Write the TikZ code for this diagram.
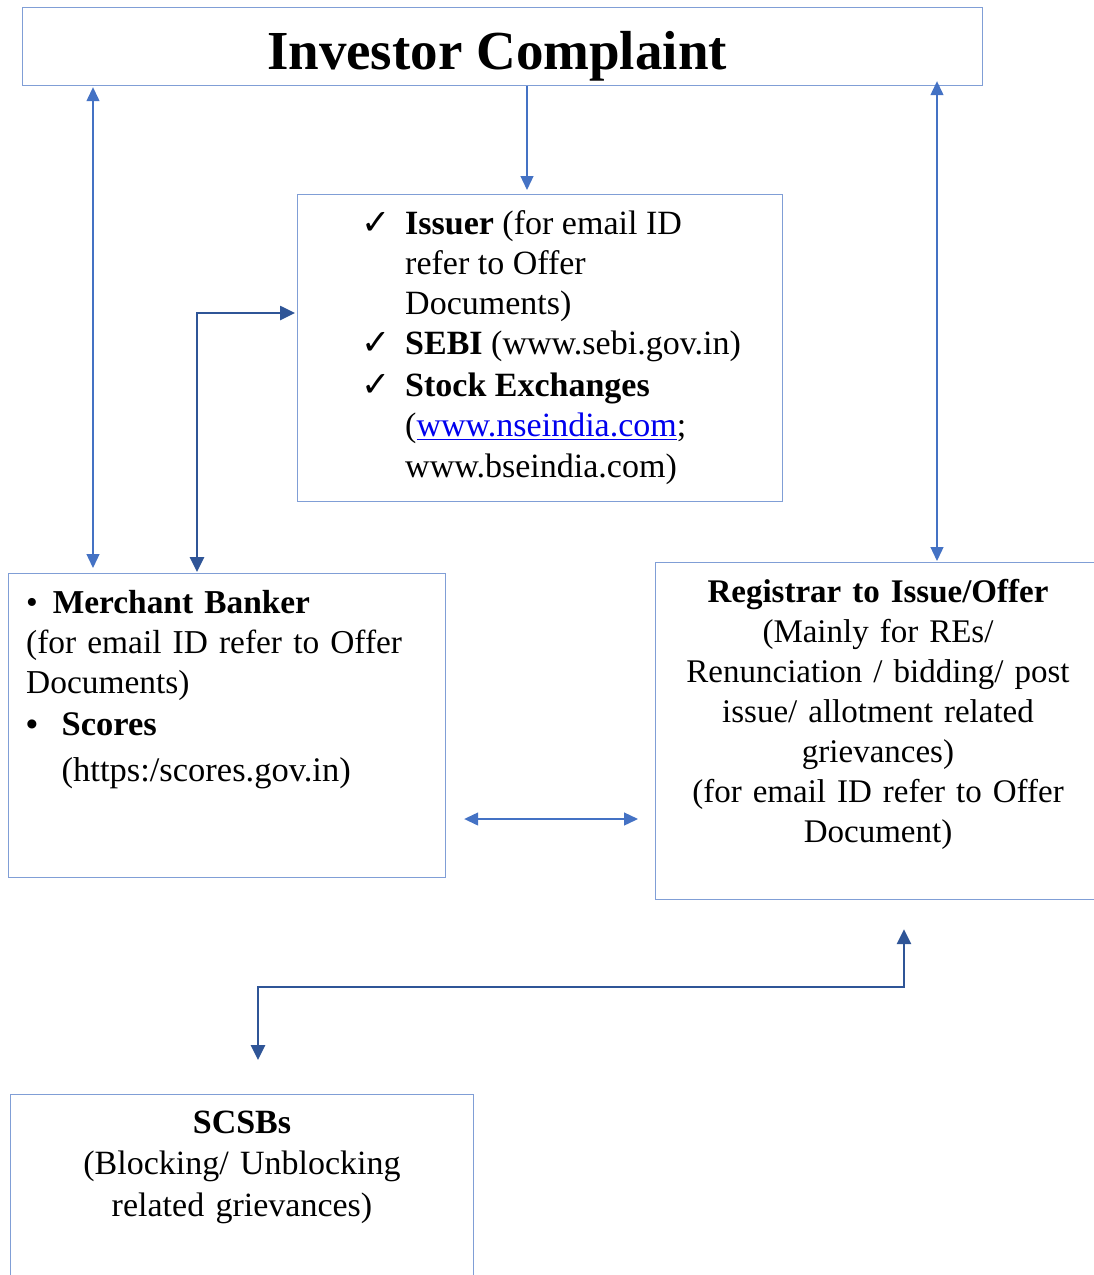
\documentclass[tikz,border=0pt]{standalone}
\usepackage{fontspec}
\setmainfont{Liberation Serif}
\newfontfamily\symfont{DejaVu Sans}
\usetikzlibrary{arrows.meta}
\definecolor{boxblue}{RGB}{128,158,214}
\definecolor{lightarrow}{RGB}{68,114,196}
\definecolor{darkarrow}{RGB}{47,85,151}
\definecolor{linkblue}{RGB}{0,0,238}
\newcommand{\chk}{{\symfont\fontsize{35}{40}\selectfont ✓}}
\tikzset{
  box/.style={draw=boxblue, line width=1.2pt, inner sep=0pt, anchor=north west},
  thinarr/.style={draw=lightarrow, line width=1.3pt, {Triangle[length=14pt,width=13pt]}-{Triangle[length=14pt,width=13pt]}},
  thinone/.style={draw=lightarrow, line width=1.3pt, -{Triangle[length=14pt,width=13pt]}},
  darkarr/.style={draw=darkarrow, line width=2.6pt, {Triangle[length=15pt,width=14pt]}-{Triangle[length=15pt,width=14pt]}},
  body/.style={inner sep=0pt, font=\fontsize{33}{40}\selectfont},
}
\begin{document}
\begin{tikzpicture}[x=1pt,y=-1pt]
\useasboundingbox (0,0) rectangle (1093,1275);
% boxes
\node[box, minimum width=960pt, minimum height=78pt] (title) at (22,7) {};
\node[box, minimum width=485pt, minimum height=307pt] (issuer) at (297,194) {};
\node[box, minimum width=437pt, minimum height=304pt] (merchant) at (8,573) {};
\node[box, minimum width=445pt, minimum height=337pt] (registrar) at (655,562) {};
\node[box, minimum width=463pt, minimum height=200pt] (scsb) at (10,1094) {};
% texts
\node[inner sep=0pt, anchor=base, font=\bfseries\fontsize{55}{60}\selectfont] (titletext) at (497,69) {Investor Complaint};
\node[body, anchor=base west, font=\fontsize{34}{40.2}\selectfont] (issuertext) at (361,234.3) {%
\begin{tabular}[t]{@{}p{44pt}@{}l@{}}
\chk & \textbf{Issuer} (for email ID\\
 & refer to Offer\\
 & Documents)\\
\chk & \textbf{SEBI} (www.sebi.gov.in)\\[1.6pt]
\chk & \textbf{Stock Exchanges}\\
 & ({\color{linkblue}\underline{www.nseindia.com}};\\
 & www.bseindia.com)
\end{tabular}};
\node[body, anchor=base west, text width=420pt, align=left, font=\fontsize{33.4}{40}\selectfont] (merchanttext) at (26,613.3) {%
\makebox[26.6pt][l]{•}\textbf{Merchant Banker}\\
(for email ID refer to Offer\\
Documents)\\[2.4pt]
\makebox[35.5pt][l]{\textbf{•}}{\fontsize{34.5}{40}\selectfont\textbf{Scores}}\\[6pt]
\hspace*{35.5pt}{\fontsize{34.5}{40}\selectfont (https:/scores.gov.in)}};
\node[body, anchor=base, text width=430pt, align=center] (registrartext) at (878,602.7) {%
\textbf{Registrar to Issue/Offer}\\
(Mainly for REs/\\
Renunciation / bidding/ post\\
issue/ allotment related\\
grievances)\\
(for email ID refer to Offer\\
Document)};
\node[body, anchor=base, text width=440pt, align=center, font=\fontsize{34}{41.5}\selectfont] (scsbtext) at (242,1133) {%
\textbf{SCSBs}\\
(Blocking/ Unblocking\\
related grievances)};
% guide coordinates
\coordinate (xa) at (93,0);
\coordinate (xb) at (527,0);
\coordinate (xc) at (937,0);
\coordinate (xd) at (197,0);
\coordinate (yd) at (0,313);
\coordinate (ye) at (0,819);
\coordinate (xf) at (904,0);
\coordinate (yf) at (0,987);
\coordinate (xg) at (258,0);
% connectors
\draw[thinarr] ([yshift=-1pt]title.south -| xa) -- ([yshift=5pt]merchant.north -| xa);
\draw[thinone] (title.south -| xb) -- ([yshift=4pt]issuer.north -| xb);
\draw[thinarr] ([yshift=5pt]title.south -| xc) -- ([yshift=1pt]registrar.north -| xc);
\draw[darkarr] ([yshift=1pt]merchant.north -| xd) |- ([xshift=-2pt]issuer.north west |- yd);
\draw[thinarr] ([xshift=18pt]merchant.east |- ye) -- ([xshift=-17pt]registrar.west |- ye);
\draw[darkarr] ([yshift=-29pt]registrar.south -| xf) |- (yf -| xg) -- ([yshift=34pt]scsb.north -| xg);
\end{tikzpicture}
\end{document}
